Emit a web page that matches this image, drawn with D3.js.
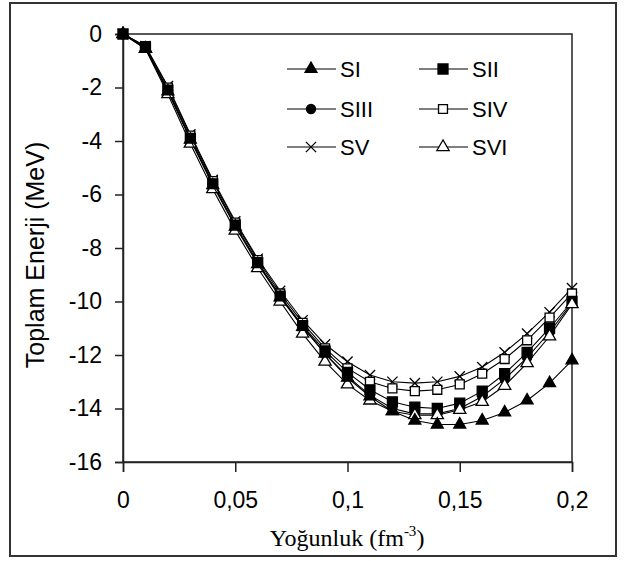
<!DOCTYPE html>
<html>
<head>
<meta charset="utf-8">
<script src="https://cdn.jsdelivr.net/npm/d3@7"></script>
<style>
  body { margin: 0; background: #fff; }
  svg text { fill: #000; }
</style>
</head>
<body>
<div id="chart"></div>
<script>
// density values (fm^-3)
const density = [0, 0.01, 0.02, 0.03, 0.04, 0.05, 0.06, 0.07, 0.08, 0.09, 0.1,
  0.11, 0.12, 0.13, 0.14, 0.15, 0.16, 0.17, 0.18, 0.19, 0.2];

const sI   = [0, -0.55, -2.15, -3.95, -5.65, -7.2, -8.6, -9.85, -10.95, -11.95, -12.85,
  -13.55, -14.1, -14.45, -14.6, -14.6, -14.45, -14.15, -13.7, -13.05, -12.2];
const sII  = [0, -0.5, -2.1, -3.9, -5.6, -7.15, -8.55, -9.8, -10.9, -11.85, -12.65,
  -13.3, -13.75, -13.95, -14.0, -13.8, -13.35, -12.7, -11.9, -11.0, -10.0];
const sIII = [0, -0.5, -2.1, -3.9, -5.6, -7.15, -8.55, -9.8, -10.95, -11.95, -12.8,
  -13.5, -14.0, -14.2, -14.2, -14.0, -13.55, -12.9, -12.1, -11.15, -10.05];
const sIV  = [0, -0.45, -2.0, -3.8, -5.5, -7.05, -8.45, -9.7, -10.8, -11.75, -12.5,
  -13.0, -13.25, -13.35, -13.3, -13.1, -12.7, -12.15, -11.45, -10.6, -9.7];
const sV   = [0, -0.45, -1.95, -3.75, -5.45, -7.0, -8.4, -9.6, -10.7, -11.6, -12.25,
  -12.75, -13.0, -13.05, -13.0, -12.8, -12.45, -11.9, -11.2, -10.4, -9.5];
const sVI  = [0, -0.55, -2.25, -4.1, -5.8, -7.35, -8.75, -10.0, -11.2, -12.25, -13.1,
  -13.7, -14.1, -14.25, -14.25, -14.05, -13.75, -13.15, -12.3, -11.3, -10.1];

const seriesNames = ['SI', 'SII', 'SIII', 'SIV', 'SV', 'SVI'];
const seriesValues = [sI, sII, sIII, sIV, sV, sVI];

const xTicks = [0, 0.05, 0.1, 0.15, 0.2];
const xTickLabels = ['0', '0,05', '0,1', '0,15', '0,2'];
const yTicks = [0, -2, -4, -6, -8, -10, -12, -14, -16];

// marker style per series
const markers = [
  { type: d3.symbolTriangle, size: 62, fill: '#000' },
  { type: d3.symbolSquare, size: 100, fill: '#000' },
  { type: d3.symbolCircle, size: 65, fill: '#000' },
  { type: d3.symbolSquare, size: 80, fill: '#fff' },
  { type: d3.symbolTimes, size: 70, fill: 'none' },
  { type: d3.symbolTriangle, size: 65, fill: '#fff' }
];

const W = 624, H = 561;
const plot = { left: 123, right: 572, top: 34, bottom: 462 };

const svg = d3.select('#chart').append('svg')
  .attr('width', W)
  .attr('height', H)
  .style('font-family', '"Liberation Sans", Arial, sans-serif');

// outer frame
svg.append('rect')
  .attr('x', 10).attr('y', 3)
  .attr('width', 606).attr('height', 553)
  .attr('fill', '#fff')
  .attr('stroke', '#333')
  .attr('stroke-width', 2);

const x = d3.scaleLinear().domain([0, 0.2]).range([plot.left, plot.right]);
const y = d3.scaleLinear().domain([-16, 0]).range([plot.bottom, plot.top]);

// plot box (top + right edges)
svg.append('rect')
  .attr('x', plot.left).attr('y', plot.top)
  .attr('width', plot.right - plot.left).attr('height', plot.bottom - plot.top)
  .attr('fill', 'none')
  .attr('stroke', '#222')
  .attr('stroke-width', 1.5);

const yAxis = svg.append('g')
  .attr('transform', `translate(${plot.left},0)`)
  .call(d3.axisLeft(y).tickValues(yTicks).tickSize(8).tickPadding(13)
    .tickFormat(d => String(d)));

const xAxis = svg.append('g')
  .attr('transform', `translate(0,${plot.bottom})`)
  .call(d3.axisBottom(x).tickValues(xTicks).tickSize(10).tickPadding(20)
    .tickFormat((d, i) => xTickLabels[i]));

[yAxis, xAxis].forEach(g => {
  g.select('.domain').attr('stroke', '#222').attr('stroke-width', 1.5);
  g.selectAll('.tick line').attr('stroke', '#222').attr('stroke-width', 1.5);
  g.selectAll('.tick text')
    .style('font-family', '"Liberation Sans", Arial, sans-serif')
    .style('font-size', '23px')
    .attr('fill', '#000');
});

// axis titles
svg.append('text')
  .attr('transform', `translate(44,255) rotate(-90)`)
  .attr('text-anchor', 'middle')
  .style('font-size', '25px')
  .text('Toplam Enerji (MeV)');

const xt = svg.append('text')
  .attr('x', 347).attr('y', 546)
  .attr('text-anchor', 'middle')
  .style('font-family', '"Liberation Serif", "Times New Roman", serif')
  .style('font-size', '24px')
  .text('Yoğunluk (fm');
xt.append('tspan').attr('dy', -10).style('font-size', '15px').text('-3');
xt.append('tspan').attr('dy', 10).text(')');

// lines and markers
const line = d3.line()
  .x((d, i) => x(density[i]))
  .y(d => y(d));

const drawOrder = [4, 3, 1, 2, 5, 0];
drawOrder.forEach(s => {
  const vals = seriesValues[s];
  const m = markers[s];
  const g = svg.append('g');
  g.append('path')
    .attr('d', line(vals))
    .attr('fill', 'none')
    .attr('stroke', '#000')
    .attr('stroke-width', 1.1);
  g.selectAll('path.pt')
    .data(vals)
    .join('path')
    .attr('class', 'pt')
    .attr('transform', (d, i) => `translate(${x(density[i])},${y(d)})`)
    .attr('d', d3.symbol().type(m.type).size(m.size))
    .attr('fill', m.fill)
    .attr('stroke', '#000')
    .attr('stroke-width', 1.3);
});

// legend
const legendCols = [287, 419];
const legendRows = [69, 109, 147];
seriesNames.forEach((name, i) => {
  const lx = legendCols[i % 2];
  const ly = legendRows[Math.floor(i / 2)];
  const m = markers[i];
  const g = svg.append('g').attr('transform', `translate(${lx},${ly})`);
  g.append('line')
    .attr('x1', 0).attr('x2', 49)
    .attr('y1', 0).attr('y2', 0)
    .attr('stroke', '#000').attr('stroke-width', 1.2);
  g.append('path')
    .attr('transform', 'translate(24,0)')
    .attr('d', d3.symbol().type(m.type).size(m.size))
    .attr('fill', m.fill)
    .attr('stroke', '#000')
    .attr('stroke-width', 1.3);
  g.append('text')
    .attr('x', 53).attr('y', 8)
    .style('font-size', '22px')
    .text(name);
});
</script>
</body>
</html>
